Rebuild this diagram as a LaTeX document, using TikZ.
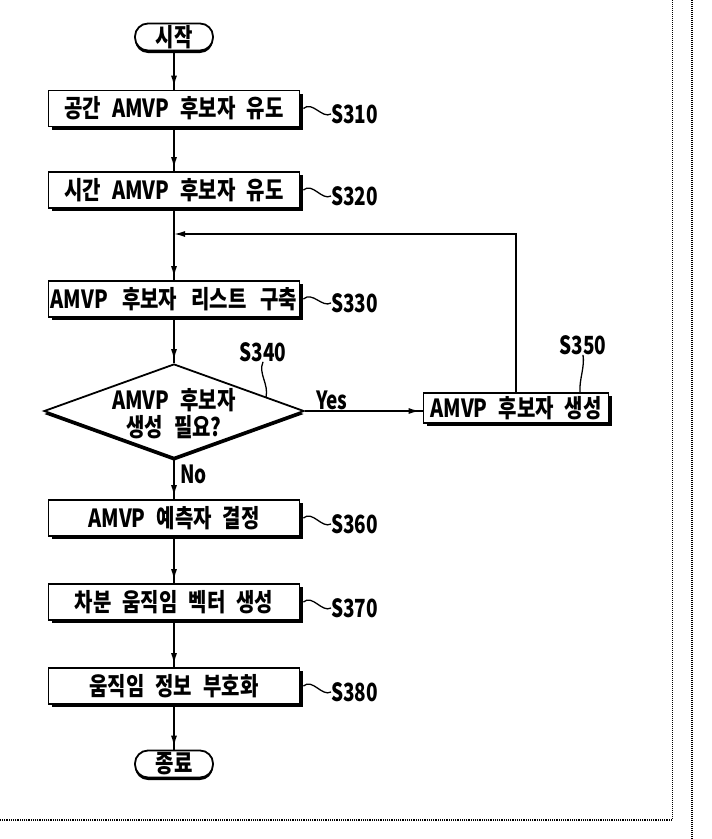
\documentclass[tikz,border=0pt]{standalone}
\usepackage{fontspec}
\setmainfont{Noto Sans CJK KR}[FakeStretch=0.8]
\newfontfamily\kB{Noto Sans CJK KR}[FakeStretch=0.8]
\newfontfamily\lfont{Noto Sans CJK KR}[FakeStretch=0.76]
\usetikzlibrary{shapes.geometric,shadows,decorations.markings,arrows.meta}
\begin{document}
\begin{tikzpicture}[x=1pt,y=-1pt,
  fB/.style={font={\kB\bfseries\fontsize{25}{27}\selectfont\spaceskip=11pt\relax}},
  fW/.style={font={\kB\bfseries\fontsize{25}{27}\selectfont\spaceskip=14pt\relax}},
  stepbox/.style={draw, line width=1.8pt, fill=white, minimum width=251pt,
    minimum height=36pt, inner sep=0pt, fB,
    drop shadow={shadow xshift=3pt, shadow yshift=-3pt, fill=black, opacity=1}},
  termbox/.style={draw, line width=1.8pt, fill=white, rounded corners=13pt,
    minimum width=78pt, minimum height=27pt, inner sep=0pt, fB,
    drop shadow={shadow xshift=0pt, shadow yshift=-2.5pt, fill=black, opacity=1}},
  decbox/.style={diamond, draw, line width=1.8pt, fill=white, minimum width=260pt,
    minimum height=94pt, inner sep=0pt,
    drop shadow={shadow xshift=0pt, shadow yshift=-3pt, fill=black, opacity=1}},
  dectext/.style={align=center, inner sep=0pt, fB},
  slabel/.style={font=\lfont\bfseries\fontsize{25}{25}\selectfont, inner sep=0pt},
  flow/.style={line width=1.5pt, postaction={decorate},
    decoration={markings, mark=at position -3pt with {\arrow{Latex[length=11pt,width=6pt]}}}},
  flowend/.style={line width=1.5pt, -{Latex[length=11pt,width=6pt]}},
  leader/.style={line width=1.3pt}
]
\useasboundingbox (0,0) rectangle (712,839);

% frame lines
\draw[line width=0.9pt, dash pattern=on 1pt off 1pt] (672,0) -- (672,820);
\draw[line width=1.2pt, dash pattern=on 1.2pt off 1pt] (672,820) -- (0,820);
\draw[line width=1.8pt, dash pattern=on 1.2pt off 0.8pt] (692,0) -- (692,839);

% nodes
\node[termbox] (start) at (174,37) {시작};
\node[stepbox] (s310) at (174,108.5) {공간 AMVP 후보자 유도};
\node[stepbox] (s320) at (174,190) {시간 AMVP 후보자 유도};
\node[stepbox, fW] (s330) at (174,299) {AMVP 후보자 리스트 구축};
\node[decbox] (s340) at (174,411) {};
\node[dectext] (s340t) at (174,414) {AMVP 후보자\\생성 필요?};
\node[stepbox, minimum width=185pt, minimum height=30pt] (s350) at (516,408) {AMVP 후보자 생성};
\node[stepbox] (s360) at (174,518) {AMVP 예측자 결정};
\node[stepbox] (s370) at (174,602) {차분 움직임 벡터 생성};
\node[stepbox] (s380) at (174,686) {움직임 정보 부호화};
\node[termbox] (end) at (174,764) {종료};

% step labels
\node[slabel, anchor=west] (l310) at (331,114) {S310};
\node[slabel, anchor=west] (l320) at (331,196) {S320};
\node[slabel, anchor=west] (l330) at (331,303) {S330};
\node[slabel] (l340) at (263,352) {S340};
\node[slabel] (l350) at (583,345) {S350};
\node[slabel, anchor=west] (l360) at (331,524) {S360};
\node[slabel, anchor=west] (l370) at (331,608) {S370};
\node[slabel, anchor=west] (l380) at (331,692) {S380};
\node[slabel] (yes) at (332,400) {Yes};
\node[slabel, anchor=west] (no) at (180,474) {No};

% connectors
\coordinate (j) at (174,234);
\coordinate (lt) at (s350.north |- j);
\draw[flow] (start.south) -- (s310.north);
\draw[flow] (s310.south) -- (s320.north);
\draw[flow] (s320.south) -- (s330.north);
\draw[flow] (s330.south) -- (s340.north);
\draw[flow] (s340.south) -- (s360.north);
\draw[flow] (s340.east) -- (s340.east -| s350.west);
\draw[flowend] (s350.north) -- (lt) -- (j);
\draw[flow] (s360.south) -- (s370.north);
\draw[flow] (s370.south) -- (s380.north);
\draw[flow] (s380.south) -- (end.north);

% leaders
\foreach \b in {310,320,330,360,370,380}{
  \draw[leader] ([xshift=3pt]s\b.east) .. controls +(9,-8) and +(-9,5) .. (l\b.west);
}
\coordinate (p340) at (266,397.5);
\coordinate (p350) at (580,392);
\draw[leader] (l340.south) .. controls +(-5,12) and +(3,-14) .. (p340);
\draw[leader] (l350.south) .. controls +(2,12) and +(-1,-12) .. (p350);
\end{tikzpicture}
\end{document}
